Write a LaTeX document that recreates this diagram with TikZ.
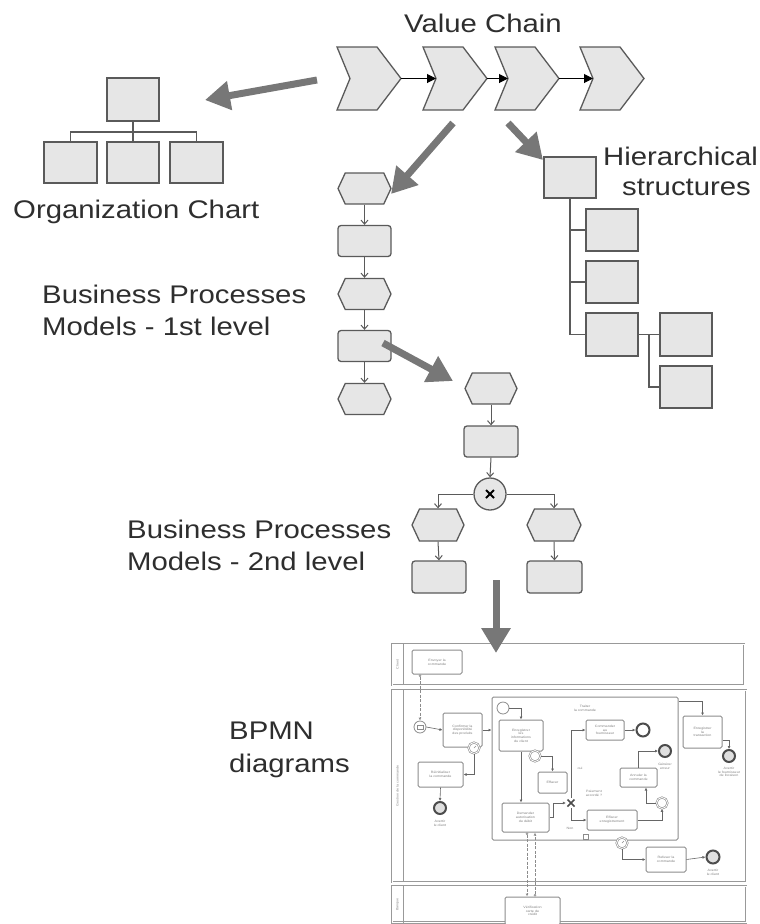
\documentclass[tikz,border=0pt]{standalone}
\usepackage{fontspec}
\setmainfont[FakeStretch=1.15]{Liberation Sans}
\usetikzlibrary{arrows.meta,shapes.symbols,calc}
\definecolor{boxfill}{HTML}{E6E6E6}
\definecolor{boxline}{HTML}{5A5A5A}
\definecolor{bigarrow}{HTML}{777777}
\definecolor{txt}{HTML}{2E2E2E}
\definecolor{bpline}{HTML}{8C8C8C}
\definecolor{bptext}{HTML}{808080}
\newcommand{\bpfnt}{\fontsize{3.2}{3.7}\selectfont}
\begin{document}
\begin{tikzpicture}[x=1pt,y=-1pt,
  big/.style={font=\fontsize{25.5}{32}\selectfont, text=txt, inner sep=0},
  sqbox/.style={rectangle, draw=boxline, fill=boxfill, line width=1.3pt, inner sep=0},
  hexa/.style={signal, signal to=east and west, signal pointer angle=130, draw=boxline, fill=boxfill, line width=1.3pt, minimum width=53pt, minimum height=31pt, inner sep=0},
  proc/.style={rectangle, rounded corners=3pt, draw=boxline, fill=boxfill, line width=1.3pt, minimum width=53pt, minimum height=31pt, inner sep=0},
  tree/.style={draw=boxline, line width=1.2pt},
  chev/.style={draw=boxline, fill=boxfill, line width=1.3pt, line join=miter},
  vcarrow/.style={draw=boxline, line width=1pt, -{Triangle[length=9pt,width=9pt]}, black},
  bigarr/.style={draw=bigarrow, line width=7pt, -{Triangle[length=25pt,width=28pt]}},
  flow/.style={draw=boxline, line width=1pt, -{Straight Barb[length=4pt,width=7pt]}},
  lane/.style={draw=black!40, line width=0.8pt, double=white, double distance=1pt},
  lanediv/.style={draw=black!40, line width=0.9pt},
  bplab/.style={font=\bpfnt, text=bptext, align=center, inner sep=0},
  bptask/.style={rectangle, draw=black!45, line width=1pt, fill=white, rounded corners=1.5pt, inner sep=0.5pt, align=center, font=\bpfnt, text=bptext},
  bpsub/.style={rectangle, draw=black!45, line width=1pt, rounded corners=1.5pt, inner sep=0},
  bpev/.style={circle, draw=black!45, line width=0.8pt, fill=white, minimum size=12pt, inner sep=0},
  bpint/.style={circle, draw=black!45, line width=0.6pt, double=white, double distance=0.8pt, fill=white, minimum size=11pt, inner sep=0},
  bpend/.style={circle, draw=black!70, line width=2pt, fill=gray!25, minimum size=12pt, inner sep=0},
  bpseq/.style={draw=black!60, line width=0.6pt, -{Latex[length=3pt,width=3pt]}},
  bpmsg/.style={draw=black!45, line width=0.6pt, dash pattern=on 3pt off 1.5pt, {Circle[open,length=2.5pt,width=2.5pt]}-{Latex[open,length=3pt,width=3pt]}}
]
\useasboundingbox (0,0) rectangle (760,924);

% ---------- texts ----------
\node[big, anchor=base] (tvc) at (483,32) {Value Chain};
\node[big, anchor=base west] (toc) at (13,218) {Organization Chart};
\node[big, anchor=base] (thi1) at (680.5,165) {Hierarchical};
\node[big, anchor=base] (thi2) at (686.5,195) {structures};
\node[big, anchor=base west] (tb1a) at (42,303) {Business Processes};
\node[big, anchor=base west] (tb1b) at (42,335) {Models - 1st level};
\node[big, anchor=base west] (tb2a) at (127,538) {Business Processes};
\node[big, anchor=base west] (tb2b) at (127,570) {Models - 2nd level};
\node[big, anchor=base west] (tbp1) at (229,739) {BPMN};
\node[big, anchor=base west] (tbp2) at (229,772) {diagrams};

% ---------- value chain ----------
\foreach \L/\n in {337/1,423/2,495/3,580/4} {
  \draw[chev] (\L,47) -- ++(40,0) -- ++(24,31.5) -- ++(-24,31.5) -- ++(-40,0) -- ++(13,-31.5) -- cycle;
  \coordinate (vc\n-tip) at (\L+64,78.5);
  \coordinate (vc\n-notch) at (\L+13,78.5);
}
\draw[vcarrow] (vc1-tip) -- (vc2-notch);
\draw[vcarrow] (vc2-tip) -- (vc3-notch);
\draw[vcarrow] (vc3-tip) -- (vc4-notch);

% ---------- organization chart ----------
\node[sqbox, minimum width=52pt, minimum height=43pt] (otop) at (133,99.5) {};
\node[sqbox, minimum width=53pt, minimum height=41pt] (o1) at (70.5,162.5) {};
\node[sqbox, minimum width=52pt, minimum height=41pt] (o2) at (133,162.5) {};
\node[sqbox, minimum width=53pt, minimum height=41pt] (o3) at (196.5,162.5) {};
\coordinate (obar) at (133,132);
\draw[tree] (otop.south) -- (o2.north);
\draw[tree] (o1.north) -- (o1.north |- obar) -- (o3.north |- obar) -- (o3.north);

% ---------- hierarchical structure ----------
\node[sqbox, minimum width=52pt, minimum height=41pt] (ht) at (570,177.5) {};
\node[sqbox, minimum width=52pt, minimum height=42pt] (hc1) at (612,230) {};
\node[sqbox, minimum width=52pt, minimum height=42pt] (hc2) at (612,282) {};
\node[sqbox, minimum width=52pt, minimum height=43pt] (hc3) at (612,334.5) {};
\node[sqbox, minimum width=52pt, minimum height=43pt] (hg1) at (686,334.5) {};
\node[sqbox, minimum width=52pt, minimum height=42pt] (hg2) at (686,387) {};
\draw[tree] (ht.south) |- (hc3.west);
\draw[tree] (ht.south |- hc1.west) -- (hc1.west);
\draw[tree] (ht.south |- hc2.west) -- (hc2.west);
\draw[tree] (hc3.east) -- (hg1.west);
\draw[tree] ($(hc3.east)!0.5!(hg1.west)$) |- (hg2.west);

% ---------- business processes level 1 ----------
\node[hexa] (p1) at (364.5,188.5) {};
\node[proc] (p2) at (364.5,241) {};
\node[hexa] (p3) at (364.5,294) {};
\node[proc] (p4) at (364.5,346) {};
\node[hexa] (p5) at (364.5,399) {};
\draw[flow] (p1.south) -- (p2.north);
\draw[flow] (p2.south) -- (p3.north);
\draw[flow] (p3.south) -- (p4.north);
\draw[flow] (p4.south) -- (p5.north);

% ---------- business processes level 2 ----------
\node[hexa, minimum width=52pt] (q1) at (491,388.5) {};
\node[proc, minimum width=54pt] (q2) at (491,441.5) {};
\node[circle, draw=boxline, fill=boxfill, line width=1.3pt, minimum size=32pt, inner sep=0] (qg) at (490,494) {};
\draw[line width=1.8pt, black] ($(qg)+(-4,-4)$) -- ($(qg)+(4,4)$);
\draw[line width=1.8pt, black] ($(qg)+(-4,4)$) -- ($(qg)+(4,-4)$);
\node[hexa, minimum width=52pt, minimum height=32pt] (ql1) at (438,525) {};
\node[hexa, minimum width=54pt, minimum height=32pt] (qr1) at (554,525) {};
\node[proc, minimum width=54pt, minimum height=32pt] (ql2) at (439,577) {};
\node[proc, minimum width=55pt, minimum height=32pt] (qr2) at (554.5,577) {};
\draw[flow] (q1.south) -- (q2.north);
\draw[flow] (q2.south) -- (qg.north);
\draw[flow] (qg.west) -| (ql1.north);
\draw[flow] (qg.east) -| (qr1.north);
\draw[flow] (ql1.south) -- (ql2.north);
\draw[flow] (qr1.south) -- (qr2.north);

% ---------- BPMN diagram ----------
\path[lane] (392,644) rectangle (744,685);
\path[lane] (392,690) rectangle (746,882);
\path[lane] (392,886) rectangle (746,922.5);
\path[lanediv] (403,644) -- (403,685);
\path[lanediv] (403,690) -- (403,882);
\path[lanediv] (403,886) -- (403,922.5);
\node[bplab, rotate=90] (lnc) at (397.5,664.5) {Client};
\node[bplab, rotate=90] (lng) at (397.5,786) {Gestion de la commande};
\node[bplab, rotate=90] (lnb) at (397.5,904.5) {Banque};

\node[bptask, minimum width=50pt, minimum height=24pt] (tenv) at (437,662) {Envoyer la\\commande};
\node[bpev] (se1) at (420,727) {};
\draw[draw=black!45, line width=0.5pt] ($(se1)+(-3,-2)$) rectangle ($(se1)+(3,2)$);
\node[bptask, minimum width=39pt, minimum height=34pt] (tconf) at (462.5,730) {Confirmer la\\disponibilité\\des produits};
\node[bpint] (tm1) at (474,748) {};
\draw[draw=black!45, line width=0.5pt] (tm1.center) -- ++(2,-2);
\node[bptask, minimum width=45pt, minimum height=25pt] (trei) at (440.5,774.5) {Réinitialiser\\la commande};
\node[bpend] (ee1) at (440,808) {};
\node[bplab] (ee1l) at (440,823) {Avertir\\le client};

\node[bpsub, minimum width=186pt, minimum height=143pt] (sub) at (585,768.5) {};
\node[bplab] (subl) at (585,708) {Traiter\\la commande};
\node[bpev] (ss) at (503,708) {};
\node[bptask, minimum width=44pt, minimum height=31pt] (tenr) at (521,735.5) {Enregistrer\\les\\informations\\du client};
\node[bpint] (bev1) at (535,756) {};
\node[bptask, minimum width=29pt, minimum height=21pt] (teff) at (552.5,782.5) {Effacer};
\node[bptask, minimum width=38pt, minimum height=20pt] (tcmd) at (605,730) {Commander\\au\\fournisseur};
\node[bpend, minimum size=13pt, fill=white] (ee2) at (643,730) {};
\node[bpend] (ee3) at (665,751) {};
\node[bplab] (ee3l) at (665,766) {Générer\\erreur};
\node[bptask, minimum width=37pt, minimum height=19pt] (tann) at (638.5,777.5) {Annuler la\\commande};
\node[bptask, minimum width=47pt, minimum height=29pt] (tdem) at (525.5,817.5) {Demander\\autorisation\\de débit};
\node[inner sep=0, minimum size=10pt] (gx) at (571,803) {};
\draw[line width=1.6pt, black!70] ($(gx)+(-3.5,-3.5)$) -- ($(gx)+(3.5,3.5)$);
\draw[line width=1.6pt, black!70] ($(gx)+(-3.5,3.5)$) -- ($(gx)+(3.5,-3.5)$);
\node[bplab] (gxl) at (594,793) {Paiement\\accordé ?};
\node[bplab] (oui) at (580,768) {oui};
\node[bplab] (non) at (570,828) {Non};
\node[bptask, minimum width=50pt, minimum height=20pt] (teffe) at (612,820) {Effacer\\enregistrement};
\node[bpint] (iev2) at (662,803) {};
\node[draw=black!45, line width=0.5pt, minimum size=5pt, inner sep=0] (comp) at (586,837) {};
\node[bpint] (tm2) at (622,843) {};
\draw[draw=black!45, line width=0.5pt] (tm2.center) -- ++(2,-2);
\node[bptask, minimum width=40pt, minimum height=25pt] (tref) at (666,859.5) {Refuser la\\commande};
\node[bpend, minimum size=13pt] (ee4) at (713,857) {};
\node[bplab] (ee4l) at (713,872) {Avertir\\le client};
\node[bptask, minimum width=39pt, minimum height=32pt] (ttrans) at (702.5,732) {Enregistrer\\la\\transaction};
\node[bpend] (ee5) at (729,756) {};
\node[bplab] (ee5l) at (729,772) {Avertir\\le fournisseur\\de livraison};
\node[bptask, minimum width=55pt, minimum height=28pt] (tver) at (532.5,911) {Vérification\\carte de\\crédit};

% message flows
\draw[bpmsg] (tenv.south -| se1) -- (se1.north);
\draw[bpmsg] ($(tdem.south)+(1.5,0)$) -- ($(tver.north)+(-5.5,0)$);
\draw[bpmsg] ($(tver.north)+(2.5,0)$) -- ($(tdem.south)+(9.5,0)$);

% sequence flows
\draw[bpseq] (se1.east) -- (tconf.west);
\draw[bpseq] (tconf.east) -- (tconf.east -| sub.west);
\draw[bpseq] (tm1.south) |- (trei.east);
\draw[bpseq] (trei.south) -- (ee1.north);
\draw[bpseq] (ss.east) -| (tenr.north);
\draw[bpseq] (tenr.south) -- (tenr.south |- tdem.north);
\draw[bpseq] (bev1.east) -| (teff.north);
\draw[bpseq] (tdem.east) -- ++(4,0) |- (gx.west);
\draw[bpseq] (gx.north) |- (tcmd.west);
\draw[bpseq] (gx.south) |- (teffe.west);
\draw[bpseq] (tcmd.east) -- (ee2.west);
\draw[bpseq] (teffe.east) -| (iev2.south);
\draw[bpseq] (iev2.west) -| ($(tann.south)+(7.5,0)$);
\draw[bpseq] (tann.north) |- (ee3.west);
\draw[bpseq] ($(sub.north east)+(0,5)$) -| (ttrans.north);
\draw[bpseq] ($(ttrans.east)+(0,8)$) -| (ee5.north);
\draw[bpseq] (tm2.south) |- (tref.west);
\draw[bpseq] (tref.east) -- (ee4.west);

% ---------- big grey arrows ----------
\coordinate (a1s) at (317,80);  \coordinate (a1e) at (205,100);
\coordinate (a2s) at (453,123); \coordinate (a2e) at (391,194);
\coordinate (a3s) at (508,123); \coordinate (a3e) at (543,160);
\coordinate (a4s) at (383,343); \coordinate (a4e) at (453,381);
\coordinate (a5s) at (496,580); \coordinate (a5e) at (496,653);
\draw[bigarr] (a1s) -- (a1e);
\draw[bigarr] (a2s) -- (a2e);
\draw[bigarr] (a3s) -- (a3e);
\draw[bigarr] (a4s) -- (a4e);
\draw[bigarr] (a5s) -- (a5e);
\end{tikzpicture}
\end{document}
